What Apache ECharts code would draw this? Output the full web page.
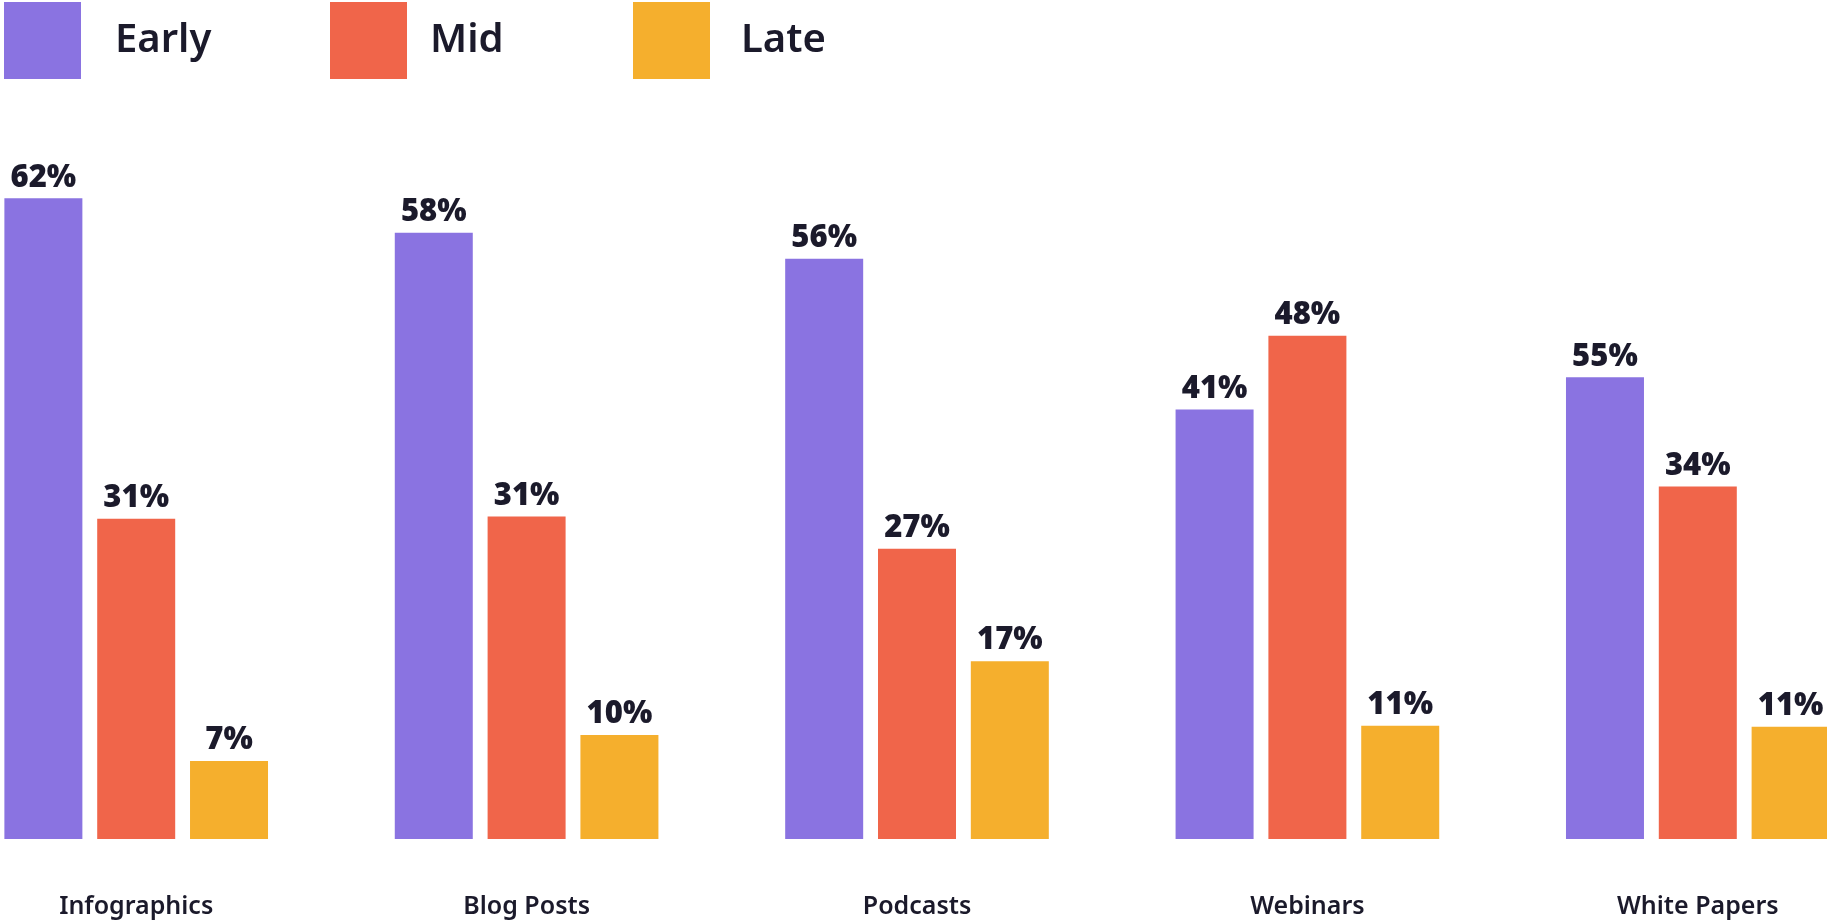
<!DOCTYPE html>
<html>
<head>
<meta charset="utf-8">
<title>Content format by stage</title>
<script src="https://cdn.jsdelivr.net/npm/echarts@6/dist/echarts.min.js"></script>
<style>
  html, body { margin: 0; padding: 0; background: #fff; overflow: hidden; width: 1827px; height: 920px; }
  /* the chart runs past both window edges (first bar sits at x=4, last one is cut on the right) */
  #chart { position: absolute; left: -59px; top: 0; width: 1952px; height: 920px; }
</style>
</head>
<body>
<div id="chart"></div>
<script>
// categories (x axis)
const categories = ['Infographics', 'Blog Posts', 'Podcasts', 'Webinars', 'White Papers']

// bar heights
const earlyValues = [61.6, 58.3, 55.8, 41.3, 44.4]
const midValues = [30.8, 31, 27.9, 48.4, 33.9]
const lateValues = [7.5, 10, 17.1, 10.9, 10.8]

// printed labels above the bars
const earlyLabels = [62, 58, 56, 41, 55]
const midLabels = [31, 31, 27, 48, 34]
const lateLabels = [7, 10, 17, 11, 11]

const seriesNames = ['Early', 'Mid', 'Late']

// colours
const COLORS = ['#8a73e1', '#f0654a', '#f5af2d']
const TEXT_COLOR = '#1b1a2b'
const FONT = '"Noto Sans", "DejaVu Sans", sans-serif'

// container is shifted 59px left of the window
const SHIFT = 59

const chart = echarts.init(document.getElementById('chart'), null, { renderer: 'canvas' })

/**
 * one series -> bars + its own label texts
 */
function makeSeries(name, values, labels, color) {
  return {
    name: name,
    type: 'bar',
    barWidth: 78,
    barGap: '19%',
    itemStyle: { color: color },
    label: {
      show: true,
      position: 'top',
      distance: 5,
      color: TEXT_COLOR,
      fontFamily: FONT,
      fontWeight: 900,
      fontSize: 31,
      formatter: (p) => labels[p.dataIndex] + '%'
    },
    data: values
  }
}

// each legend entry placed on its own (the gaps in the picture are not even)
function makeLegend(name, left, textGap) {
  return {
    data: [name],
    left: left + SHIFT,
    top: 2,
    padding: 0,
    icon: 'rect',
    itemWidth: 77,
    itemHeight: 77,
    selectedMode: false,
    textStyle: {
      color: TEXT_COLOR,
      fontFamily: FONT,
      fontSize: 40,
      fontWeight: 600,
      padding: [8, 0, 0, textGap]
    }
  }
}

const option = {
  backgroundColor: '#ffffff',
  animation: false,
  legend: [
    makeLegend('Early', 4, 29),
    makeLegend('Mid', 330, 18),
    makeLegend('Late', 633, 26)
  ],
  grid: {
    left: 0,
    right: 0,
    top: 111,
    bottom: 81
  },
  xAxis: {
    type: 'category',
    data: categories,
    axisLine: { show: false },
    axisTick: { show: false },
    axisLabel: {
      margin: 55,
      color: TEXT_COLOR,
      fontFamily: FONT,
      fontSize: 25,
      fontWeight: 600
    }
  },
  yAxis: {
    type: 'value',
    min: 0,
    max: 70,
    show: false,
    splitLine: { show: false }
  },
  series: [
    makeSeries(seriesNames[0], earlyValues, earlyLabels, COLORS[0]),
    makeSeries(seriesNames[1], midValues, midLabels, COLORS[1]),
    makeSeries(seriesNames[2], lateValues, lateLabels, COLORS[2])
  ]
}

chart.setOption(option)
</script>
</body>
</html>
